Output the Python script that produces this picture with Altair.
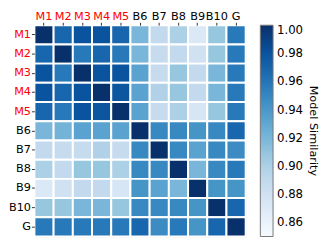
import altair as alt
import pandas as pd

models = ["M1", "M2", "M3", "M4", "M5", "B6", "B7", "B8", "B9", "B10", "G"]

row_M1 = [1.000, 0.969, 0.980, 0.980, 0.969, 0.920, 0.889, 0.900, 0.871, 0.909, 0.958]
row_M2 = [0.969, 1.000, 0.958, 0.969, 0.958, 0.920, 0.887, 0.889, 0.880, 0.909, 0.958]
row_M3 = [0.980, 0.958, 1.000, 0.980, 0.980, 0.933, 0.887, 0.909, 0.889, 0.920, 0.958]
row_M4 = [0.980, 0.969, 0.980, 1.000, 0.978, 0.933, 0.898, 0.909, 0.889, 0.920, 0.958]
row_M5 = [0.969, 0.958, 0.980, 0.978, 1.000, 0.933, 0.887, 0.900, 0.875, 0.909, 0.958]
row_B6 = [0.920, 0.922, 0.933, 0.933, 0.933, 1.000, 0.949, 0.949, 0.942, 0.949, 0.969]
row_B7 = [0.889, 0.887, 0.887, 0.898, 0.887, 0.949, 1.000, 0.949, 0.933, 0.949, 0.947]
row_B8 = [0.900, 0.889, 0.909, 0.909, 0.900, 0.949, 0.949, 1.000, 0.920, 0.949, 0.958]
row_B9 = [0.871, 0.880, 0.889, 0.889, 0.875, 0.942, 0.933, 0.920, 1.000, 0.942, 0.942]
row_B10 = [0.909, 0.909, 0.920, 0.920, 0.909, 0.949, 0.949, 0.949, 0.942, 1.000, 0.969]
row_G = [0.958, 0.958, 0.958, 0.958, 0.958, 0.969, 0.947, 0.958, 0.942, 0.969, 1.000]

rows = [row_M1, row_M2, row_M3, row_M4, row_M5, row_B6, row_B7, row_B8, row_B9, row_B10, row_G]

legend_ticks = [0.86, 0.88, 0.90, 0.92, 0.94, 0.96, 0.98, 1.00]

records = []
for i, r in enumerate(models):
    for j, c in enumerate(models):
        records.append({"row": r, "col": c, "value": rows[i][j]})
df = pd.DataFrame(records)

blues = ["#f7fbff", "#deebf7", "#c6dbef", "#9ecae1", "#6baed6",
         "#4292c6", "#2171b5", "#08519c", "#08306b"]
vmin, vmax = 0.85, 1.0
stops = [vmin + (vmax - vmin) * k / 8 for k in range(9)]

red_test = "indexof(['M1','M2','M3','M4','M5'], datum.value) >= 0"
label_color = {"condition": {"test": red_test, "value": "red"}, "value": "black"}

FONT = "DejaVu Sans"

chart = alt.Chart(df).mark_rect(stroke="white", strokeWidth=2).encode(
    x=alt.X("col:N", sort=models, title=None,
            scale=alt.Scale(paddingInner=0, paddingOuter=0),
            axis=alt.Axis(orient="top", labelAngle=0, domain=False, tickSize=3,
                          labelPadding=1, labelFontSize=11.5, labelFont=FONT,
                          labelColor=label_color, tickColor="#333333")),
    y=alt.Y("row:N", sort=models, title=None,
            scale=alt.Scale(paddingInner=0, paddingOuter=0),
            axis=alt.Axis(domain=False, tickSize=3, labelPadding=1,
                          labelFontSize=11.5, labelFont=FONT,
                          labelColor=label_color, tickColor="#333333")),
    color=alt.Color("value:Q",
                    scale=alt.Scale(domain=stops, range=blues),
                    legend=alt.Legend(
                        title=None,
                        values=legend_ticks, format=".2f",
                        labelFontSize=12, labelFont=FONT, labelOffset=4,
                        gradientLength=216, gradientThickness=13,
                        gradientStrokeColor="#777777", gradientStrokeWidth=1,
                        offset=15)),
).properties(
    width=216, height=216,
    title=alt.TitleParams("Model Similarity", orient="right", angle=90,
                          anchor="middle", fontSize=11.5, fontWeight="normal",
                          font=FONT, offset=4),
    padding={"left": 0, "top": 0, "right": 1, "bottom": 1},
).configure_view(stroke=None).configure(background="white")

chart.save("out.html", embed_options={"renderer": "svg", "actions": False})
